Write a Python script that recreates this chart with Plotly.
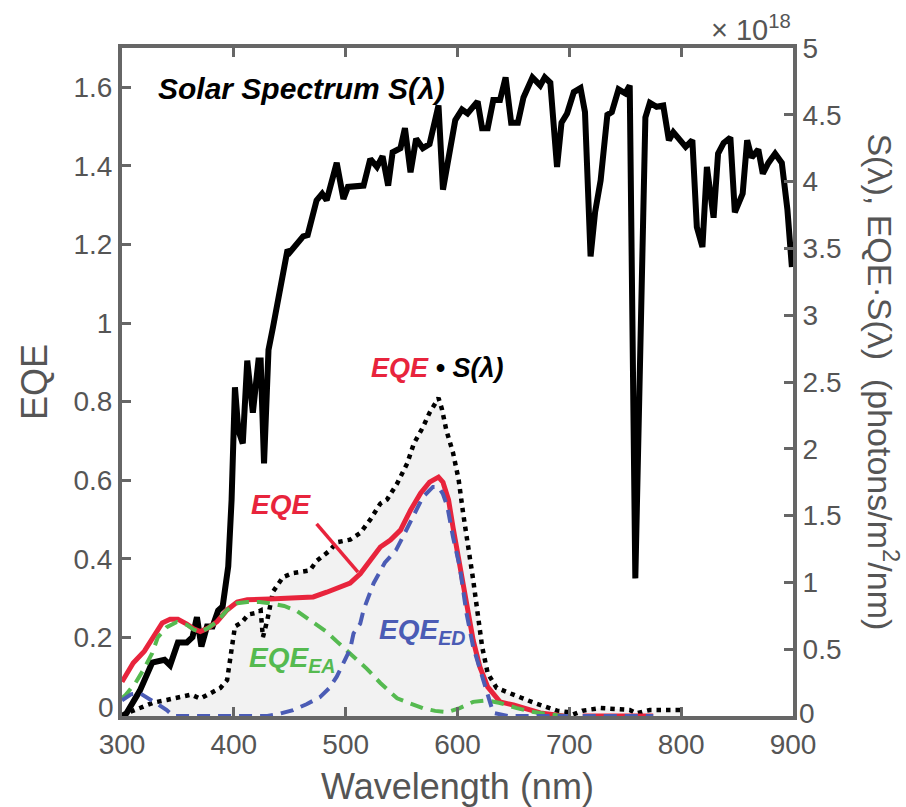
import plotly.graph_objects as go

# ---------------- data ----------------
# Solar spectrum S(lambda), units of 1e18 photons/m^2/nm (right axis)
sol_wl = [300, 304, 316, 327, 338, 343, 350, 358, 363, 367, 371, 376, 381, 386, 390, 395, 398, 401, 404, 408,
          412, 417, 422, 424, 427, 431, 435, 441, 448, 450, 462, 466, 470, 474, 479, 483, 492, 498, 502, 516,
          522, 528, 533, 538, 542, 549, 553, 558, 563, 569, 575, 583, 587, 598, 604, 609, 618, 622, 627, 632,
          638, 643, 648, 654, 659, 667, 674, 678, 683, 689, 693, 698, 704, 710, 714, 719, 723, 728, 734, 738,
          744, 750, 754, 759, 768, 772, 778, 784, 789, 793, 799, 804, 810, 814, 819, 823, 829, 833, 838, 844,
          848, 855, 859, 863, 869, 873, 878, 884, 890, 895, 899]
sol = [0.0, 0.02, 0.19, 0.40, 0.42, 0.38, 0.55, 0.55, 0.59, 0.74, 0.52, 0.67, 0.67, 0.79, 0.82, 1.12, 1.62, 2.46, 2.14, 2.04,
       2.66, 2.27, 2.66, 2.66, 1.89, 2.74, 2.91, 3.17, 3.49, 3.47, 3.59, 3.60, 3.74, 3.86, 3.91, 3.86, 4.14, 3.87, 3.96, 3.97,
       4.17, 4.11, 4.19, 3.97, 4.22, 4.25, 4.40, 4.07, 4.32, 4.25, 4.28, 4.57, 3.94, 4.46, 4.54, 4.51, 4.60, 4.40, 4.40, 4.61,
       4.61, 4.78, 4.44, 4.44, 4.63, 4.78, 4.72, 4.78, 4.74, 4.11, 4.44, 4.51, 4.67, 4.70, 4.52, 3.44, 3.77, 4.01, 4.50, 4.52,
       4.69, 4.66, 4.72, 1.03, 4.48, 4.59, 4.56, 4.57, 4.31, 4.37, 4.31, 4.26, 4.31, 3.66, 3.51, 4.11, 3.73, 4.21, 4.29, 4.33,
       3.77, 3.91, 4.31, 4.18, 4.24, 4.06, 4.14, 4.21, 4.14, 3.79, 3.36]

# EQE * S(lambda), units of 1e18 (right axis)
es_wl = [300, 304, 316, 328, 340, 352, 362, 370, 379, 388, 394, 397, 401, 407, 413, 419, 424, 426, 430, 435,
         444, 453, 468, 474, 486, 492, 504, 513, 522, 531, 537, 546, 555, 561, 569, 575, 583, 586, 590, 596,
         601, 605, 610, 614, 618, 622, 627, 635, 650, 668, 689, 698, 703, 712, 728, 754, 760, 772, 800]
es = [0.0, 0.02, 0.06, 0.10, 0.12, 0.14, 0.16, 0.13, 0.17, 0.21, 0.27, 0.42, 0.67, 0.70, 0.76, 0.77, 0.79, 0.59, 0.72, 0.93,
      1.04, 1.07, 1.09, 1.16, 1.24, 1.30, 1.32, 1.37, 1.47, 1.59, 1.62, 1.74, 1.89, 2.04, 2.16, 2.27, 2.38, 2.30, 2.14, 1.97,
      1.77, 1.52, 1.27, 1.02, 0.77, 0.52, 0.32, 0.21, 0.16, 0.10, 0.04, 0.03, 0.01, 0.04, 0.06, 0.045, 0.02, 0.045, 0.045]

# Total EQE (left axis)
eqe_wl = [300, 310, 320, 328, 336, 343, 350, 358, 364, 370, 377, 385, 394, 403, 412, 432, 453, 471, 483, 495,
          504, 513, 522, 531, 540, 549, 558, 567, 575, 583, 587, 592, 596, 601, 605, 610, 614, 620, 627, 638,
          650, 674, 695, 703, 712, 775]
eqe = [0.087, 0.135, 0.165, 0.20, 0.237, 0.246, 0.246, 0.234, 0.222, 0.215, 0.224, 0.24, 0.27, 0.29, 0.296, 0.298, 0.30, 0.303, 0.315, 0.328,
       0.338, 0.362, 0.397, 0.43, 0.448, 0.473, 0.524, 0.567, 0.595, 0.608, 0.595, 0.55, 0.48, 0.405, 0.328, 0.262, 0.193, 0.125, 0.074, 0.036,
       0.028, 0.008, 0.0, None, 0.0, 0.0]

# EQE from electron acceptor (left axis)
ea_wl = [300, 303, 312, 319, 327, 332, 340, 349, 358, 364, 370, 377, 385, 394, 403, 412, 423, 432, 445, 456,
         468, 483, 492, 504, 519, 531, 546, 555, 569, 580, 591, 602, 614, 626, 638, 653, 668, 680, 695]
ea = [0.045, 0.053, 0.084, 0.117, 0.16, 0.20, 0.226, 0.239, 0.232, 0.22, 0.214, 0.224, 0.24, 0.27, 0.287, 0.29, 0.29, 0.287, 0.28, 0.268,
      0.244, 0.214, 0.19, 0.16, 0.12, 0.084, 0.045, 0.035, 0.02, 0.013, 0.01, 0.02, 0.036, 0.04, 0.033, 0.02, 0.01, 0.005, 0.0]

# EQE from electron donor (left axis)
ed_wl = [300, 308, 316, 324, 332, 340, 346, 430, 440, 453, 465, 477, 485, 492, 498, 504, 507, 513, 516, 525,
         535, 545, 551, 560, 569, 578, 583, 587, 591, 596, 602, 608, 614, 623, 632, 645, 700, 703, 712, 775]
ed = [0.04, 0.055, 0.058, 0.045, 0.03, 0.015, 0.0, 0.0, 0.005, 0.015, 0.03, 0.048, 0.07, 0.10, 0.135, 0.17, 0.21, 0.235, 0.27, 0.338,
      0.39, 0.422, 0.455, 0.506, 0.557, 0.583, 0.583, 0.565, 0.532, 0.455, 0.38, 0.262, 0.176, 0.092, 0.008, 0.0, 0.0, None, 0.0, 0.0]

x_ticks = [300, 400, 500, 600, 700, 800, 900]
left_ticks = [0, 0.2, 0.4, 0.6, 0.8, 1.0, 1.2, 1.4, 1.6]
left_labels = ["", "0.2", "0.4", "0.6", "0.8", "1", "1.2", "1.4", "1.6"]
right_ticks = [0, 0.5, 1, 1.5, 2, 2.5, 3, 3.5, 4, 4.5, 5]
right_labels = ["", "0.5", "1", "1.5", "2", "2.5", "3", "3.5", "4", "4.5", "5"]

# ---------------- style ----------------
RED = "#E8243C"
GREEN = "#55BA50"
BLUE = "#4B5CB5"
AX = "#666666"
TXT = "#555555"
FONT = "Liberation Sans"
TICK_SIZE = 28

fig = go.Figure()

fig.add_trace(go.Scatter(x=es_wl, y=es, yaxis="y", mode="lines", fill="tozeroy",
                         fillcolor="#F2F2F2",
                         line=dict(color="black", width=4.5, dash="4.5px,5px"),
                         hoverinfo="skip", showlegend=False))
fig.add_trace(go.Scatter(x=sol_wl, y=sol, yaxis="y", mode="lines",
                         line=dict(color="black", width=6), showlegend=False))
fig.add_trace(go.Scatter(x=eqe_wl, y=eqe, yaxis="y2", mode="lines",
                         line=dict(color=RED, width=5), connectgaps=False, showlegend=False))
fig.add_trace(go.Scatter(x=ea_wl, y=ea, yaxis="y2", mode="lines",
                         line=dict(color=GREEN, width=4, dash="13px,8px"), showlegend=False))
fig.add_trace(go.Scatter(x=ed_wl, y=ed, yaxis="y2", mode="lines", connectgaps=False,
                         line=dict(color=BLUE, width=4, dash="13px,8px"), showlegend=False))

axis_common = dict(showline=True, linewidth=4, linecolor=AX, ticks="inside", ticklen=9,
                   tickwidth=3, tickcolor=AX, showgrid=False, zeroline=False, automargin=False,
                   tickfont=dict(family=FONT, size=TICK_SIZE, color=TXT))

fig.update_layout(
    width=906, height=807,
    margin=dict(l=122, r=113, t=48, b=91),
    paper_bgcolor="white", plot_bgcolor="white",
    font=dict(family=FONT, color=TXT),
    xaxis=dict(range=[300, 900], tickvals=x_ticks, mirror="ticks",
               title=dict(text="Wavelength (nm)", font=dict(family=FONT, size=36, color=TXT), standoff=16),
               **axis_common),
    yaxis=dict(range=[0, 5], tickvals=right_ticks, ticktext=right_labels, side="right", anchor="x",
               **axis_common),
    yaxis2=dict(range=[0, 1.7], tickvals=left_ticks, ticktext=left_labels, side="left", overlaying="y",
                anchor="x",
                title=dict(text="EQE", font=dict(family=FONT, size=36, color=TXT), standoff=16),
                **axis_common),
)

# zero labels of both y axes, lifted clear of the x tick labels
fig.add_annotation(xref="paper", yref="y2", x=0, y=0, xanchor="right", yanchor="middle",
                   xshift=-6, yshift=9, text="0", showarrow=False,
                   font=dict(family=FONT, size=TICK_SIZE, color=TXT))
fig.add_annotation(xref="paper", yref="y", x=1, y=0, xanchor="left", yanchor="middle",
                   xshift=4, yshift=3, text="0", showarrow=False,
                   font=dict(family=FONT, size=TICK_SIZE, color=TXT))

fig.add_annotation(xref="paper", yref="paper", x=0.050, y=0.940, xanchor="left", yanchor="middle",
                   text="<b><i>Solar Spectrum S(λ)</i></b>", showarrow=False,
                   font=dict(family=FONT, size=30, color="black"))
fig.add_annotation(xref="paper", yref="paper", x=0.368, y=0.521, xanchor="left", yanchor="middle",
                   text=f"<b><i><span style='color:{RED}'>EQE</span> • S(λ)</i></b>", showarrow=False,
                   font=dict(family=FONT, size=27, color="black"))
fig.add_annotation(xref="paper", yref="paper", x=0.190, y=0.316, xanchor="left", yanchor="middle",
                   text="<b><i>EQE</i></b>", showarrow=False, font=dict(family=FONT, size=28, color=RED))
fig.add_annotation(xref="paper", yref="paper", x=0.186, y=0.084, xanchor="left", yanchor="middle",
                   text="<b><i>EQE<sub>EA</sub></i></b>", showarrow=False, font=dict(family=FONT, size=28, color=GREEN))
fig.add_annotation(xref="paper", yref="paper", x=0.380, y=0.126, xanchor="left", yanchor="middle",
                   text="<b><i>EQE<sub>ED</sub></i></b>", showarrow=False, font=dict(family=FONT, size=28, color=BLUE))
# pointer from EQE label to the EQE curve
fig.add_shape(type="line", xref="x", yref="y2", x0=474, y0=0.489, x1=511, y1=0.366,
              line=dict(color=RED, width=3.5))
# right axis title (reads top to bottom)
fig.add_annotation(xref="paper", yref="paper", x=1.135, y=0.5, xanchor="center", yanchor="middle",
                   text="S(λ), EQE·S(λ)  (photons/m<sup>2</sup>/nm)", textangle=90, showarrow=False,
                   font=dict(family=FONT, size=34, color=TXT))
# exponent label
fig.add_annotation(xref="paper", yref="paper", x=1.0, y=1.0, xanchor="right", yanchor="bottom", yshift=0,
                   text="× 10<sup>18</sup>", showarrow=False, font=dict(family=FONT, size=29, color=TXT))

fig.write_html("out.html")
